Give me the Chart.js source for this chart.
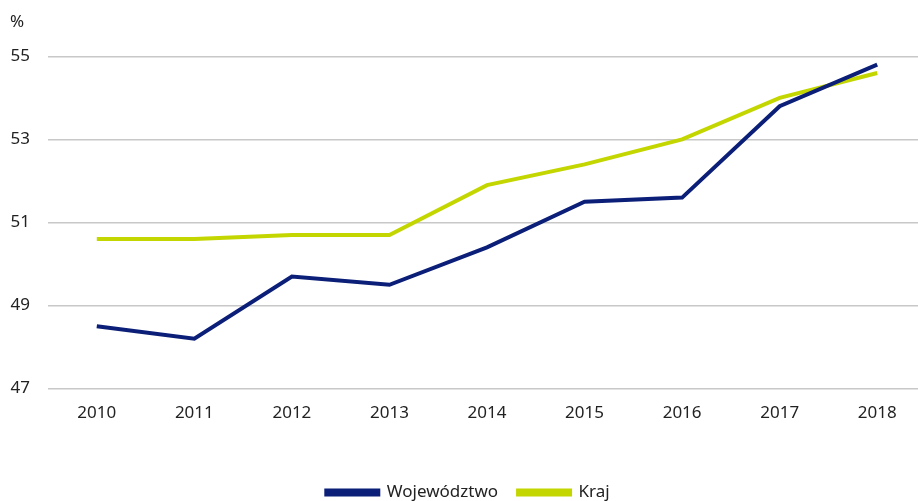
<!DOCTYPE html>
<html><head><meta charset="utf-8">
<script src="https://cdn.jsdelivr.net/npm/chart.js@4/dist/chart.umd.min.js"></script>
<style>html,body{margin:0;padding:0;overflow:hidden;background:#fff}#wrap{width:928px;height:511px;position:relative}</style>
</head><body>
<div id="wrap"><canvas id="c" width="928" height="511"></canvas></div>
<script>
const categories = ['2010','2011','2012','2013','2014','2015','2016','2017','2018'];
const wojewodztwo = [48.5, 48.2, 49.7, 49.5, 50.4, 51.5, 51.6, 53.8, 54.8];
const kraj = [50.6, 50.6, 50.7, 50.7, 51.9, 52.4, 53.0, 54.0, 54.6];
const yTicks = [47, 49, 51, 53, 55];
const FONT = "'Noto Sans', 'Open Sans', sans-serif";
const FS = 17;

new Chart(document.getElementById('c'), {
  type: 'line',
  data: {
    labels: categories,
    datasets: [
      {label: 'Województwo', data: wojewodztwo, borderColor: '#0b1f78', backgroundColor: '#0b1f78', borderWidth: 4, pointRadius: 0, tension: 0},
      {label: 'Kraj', data: kraj, borderColor: '#c4d600', backgroundColor: '#c4d600', borderWidth: 4, pointRadius: 0, tension: 0}
    ]
  },
  options: {
    responsive: false,
    animation: false,
    layout: {padding: {left: 10, top: 0, right: 2, bottom: 0}},
    plugins: {
      title: {display: true, text: '%', align: 'start', color: '#222', font: {family: FONT, size: FS, weight: 'normal'}, padding: {top: 12, bottom: 24}},
      legend: {position: 'bottom', labels: {boxWidth: 52, boxHeight: 4, color: '#222', font: {family: FONT, size: FS}, padding: 20}},
      tooltip: {enabled: false}
    },
    scales: {
      x: {
        offset: true,
        grid: {display: false},
        border: {display: false},
        ticks: {color: '#222', font: {family: FONT, size: FS}, padding: 6},
        afterFit: (axis) => { axis.height += 35; }
      },
      y: {
        min: 47, max: 55,
        afterBuildTicks: (axis) => { axis.ticks = yTicks.map(v => ({value: v})); },
        afterFit: (axis) => { axis.width = 38; },
        grid: {color: '#c8c8c8', lineWidth: 1.5, drawTicks: false},
        border: {display: false},
        ticks: {color: '#222', font: {family: FONT, size: FS}, padding: 18}
      }
    }
  }
});
</script>
</body></html>
